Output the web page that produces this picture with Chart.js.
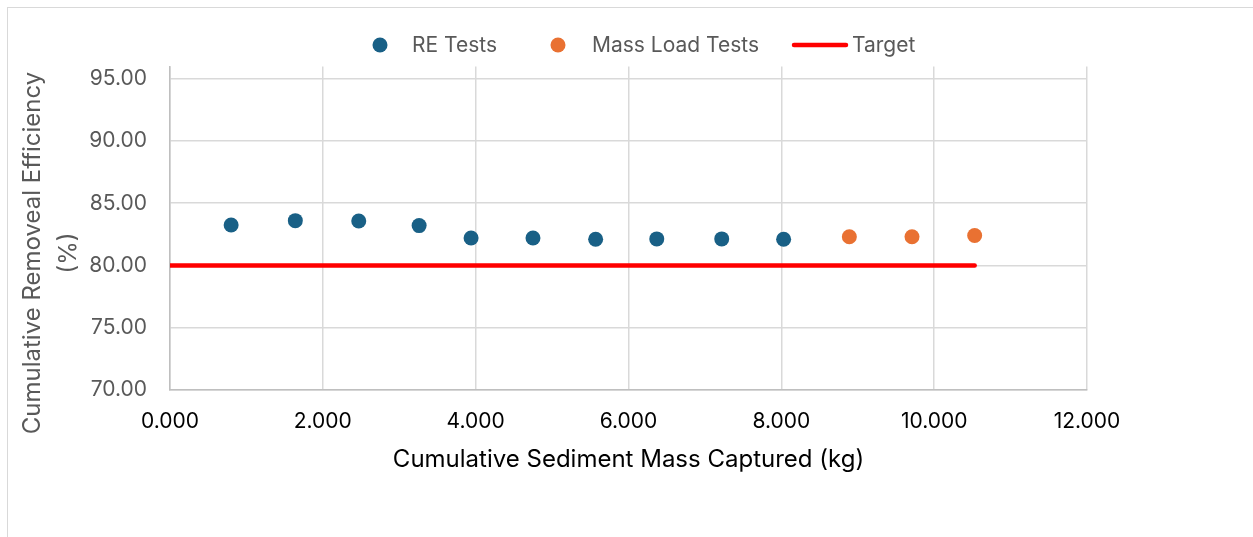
<!DOCTYPE html>
<html>
<head>
<meta charset="utf-8">
<script src="https://cdn.jsdelivr.net/npm/chart.js@4/dist/chart.umd.min.js"></script>
<style>
  html, body { margin: 0; padding: 0; background: #ffffff; overflow: hidden; }
  #wrap { position: relative; width: 1253px; height: 537px; }
  #frame { position: absolute; left: 7px; top: 7px; width: 1300px; height: 600px; border: 1.5px solid #d9d9d9; box-sizing: border-box; }
  canvas { position: absolute; left: 0; top: 0; }
</style>
</head>
<body>
<div id="wrap">
  <div id="frame"></div>
  <canvas id="c" width="1253" height="537"></canvas>
</div>
<script>
// ---- Data ----
const reMass = [0.80, 1.64, 2.47, 3.26, 3.94, 4.75, 5.57, 6.37, 7.22, 8.03];
const reEff  = [83.25, 83.60, 83.57, 83.20, 82.20, 82.20, 82.10, 82.13, 82.13, 82.10];
const mlMass = [8.89, 9.71, 10.53];
const mlEff  = [82.30, 82.30, 82.40];
const targetMass = [0, 10.53];
const targetEff  = [80, 80];
const seriesNames = ['RE Tests', 'Mass Load Tests', 'Target'];
const xTickValues = [0, 2, 4, 6, 8, 10, 12];
const yTickValues = [70, 75, 80, 85, 90, 95];
const yTitleLines = ['Cumulative Removeal Efficiency', '(%)'];
const xTitle = 'Cumulative Sediment Mass Captured (kg)';

const toPts = (xs, ys) => xs.map((x, i) => ({ x: x, y: ys[i] }));

const FONT = "Inter, 'Liberation Sans', Arial, sans-serif";

// legend + y-axis title drawn in Excel-like positions
const decorPlugin = {
  id: 'excelDecor',
  afterDraw(chart) {
    const ctx = chart.ctx;
    const ds = chart.data.datasets;
    const y = 45;
    const layout = [
      { mark: 380, text: 412 },
      { mark: 558, text: 592 },
      { mark: 820, text: 852 }
    ];
    ctx.save();
    ctx.font = "21px " + FONT;
    ctx.textBaseline = 'middle';
    ds.forEach((d, i) => {
      const L = layout[i];
      if (d.showLine) {
        ctx.strokeStyle = d.borderColor;
        ctx.lineWidth = d.borderWidth;
        ctx.lineCap = 'round';
        ctx.beginPath();
        ctx.moveTo(L.mark - 26, y);
        ctx.lineTo(L.mark + 26, y);
        ctx.stroke();
      } else {
        ctx.fillStyle = d.backgroundColor;
        ctx.beginPath();
        ctx.arc(L.mark, y, d.pointRadius, 0, Math.PI * 2);
        ctx.fill();
      }
      ctx.fillStyle = '#595959';
      ctx.textAlign = 'left';
      ctx.fillText(d.label, L.text, y + 1);
    });
    // y-axis title (two lines, rotated)
    ctx.font = "24px " + FONT;
    ctx.fillStyle = '#595959';
    ctx.textAlign = 'center';
    ctx.textBaseline = 'middle';
    const cy = 253;
    const xs = [33, 69];
    yTitleLines.forEach((t, i) => {
      ctx.save();
      ctx.translate(xs[i], cy);
      ctx.rotate(-Math.PI / 2);
      ctx.fillText(t, 0, 0);
      ctx.restore();
    });
    ctx.restore();
  }
};

new Chart(document.getElementById('c'), {
  type: 'scatter',
  data: {
    datasets: [
      {
        label: seriesNames[0],
        data: toPts(reMass, reEff),
        backgroundColor: '#196086',
        borderWidth: 0,
        pointRadius: 7.5,
        pointHoverRadius: 7.5,
        order: 1
      },
      {
        label: seriesNames[1],
        data: toPts(mlMass, mlEff),
        backgroundColor: '#E97132',
        borderWidth: 0,
        pointRadius: 7.5,
        pointHoverRadius: 7.5,
        order: 1
      },
      {
        label: seriesNames[2],
        data: toPts(targetMass, targetEff),
        showLine: true,
        borderColor: '#FF0000',
        backgroundColor: '#FF0000',
        borderWidth: 4.5,
        borderCapStyle: 'round',
        pointRadius: 0,
        pointHoverRadius: 0,
        order: 2
      }
    ]
  },
  options: {
    responsive: false,
    animation: false,
    events: [],
    layout: { padding: { left: 0, right: 166, top: 66.5, bottom: 0 } },
    plugins: {
      legend: { display: false },
      tooltip: { enabled: false }
    },
    scales: {
      x: {
        type: 'linear',
        min: 0,
        max: 12,
        afterBuildTicks: s => { s.ticks = xTickValues.map(v => ({ value: v })); },
        afterFit: s => { s.height = 537 - 389.7; },
        grid: { color: '#d9d9d9', lineWidth: 1.5, drawTicks: false },
        border: { color: '#bfbfbf', width: 1.5 },
        ticks: {
          padding: 19,
          color: '#000000',
          font: { family: FONT, size: 21 },
          callback: v => Number(v).toFixed(3),
          maxRotation: 0,
          autoSkip: false
        },
        title: {
          display: true,
          text: xTitle,
          color: '#000000',
          font: { family: FONT, size: 24 },
          padding: { top: 0, bottom: 63 }
        }
      },
      y: {
        type: 'linear',
        min: 70,
        max: 96,
        afterBuildTicks: s => { s.ticks = yTickValues.map(v => ({ value: v })); },
        afterFit: s => { s.width = 170; },
        grid: { color: '#d9d9d9', lineWidth: 1.5, drawTicks: false },
        border: { color: '#bfbfbf', width: 1.5 },
        ticks: {
          padding: 23,
          color: '#595959',
          font: { family: FONT, size: 21 },
          callback: v => Number(v).toFixed(2)
        },
        title: { display: false }
      }
    }
  },
  plugins: [decorPlugin]
});
</script>
</body>
</html>
